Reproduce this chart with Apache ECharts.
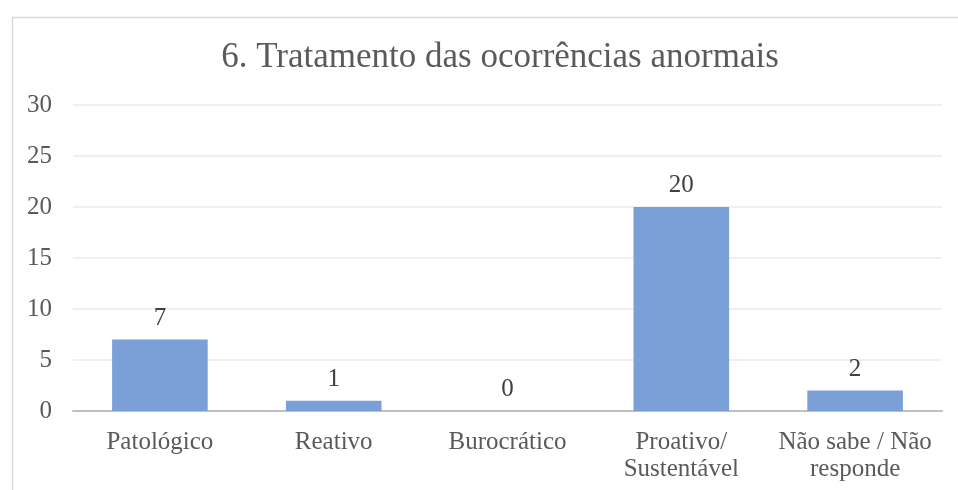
<!DOCTYPE html>
<html>
<head>
<meta charset="utf-8">
<script src="https://cdn.jsdelivr.net/npm/echarts@6/dist/echarts.min.js"></script>
<style>
html,body{margin:0;padding:0;background:#fff;}
#c{width:958px;height:490px;}
</style>
</head>
<body>
<div id="c"></div>
<script>
const titleText = '6. Tratamento das ocorrências anormais';
const categories = ['Patológico', 'Reativo', 'Burocrático', 'Proativo/\nSustentável', 'Não sabe / Não\nresponde'];
const values = [7, 1, 0, 20, 2];
const yTicks = [0, 5, 10, 15, 20, 25, 30];

const font = '"Liberation Serif", "Times New Roman", serif';
const chart = echarts.init(document.getElementById('c'));
chart.setOption({
  animation: false,
  backgroundColor: '#fff',
  graphic: [{
    type: 'rect', left: 10, top: 15, shape: {width: 1000, height: 520},
    style: {fill: 'none', stroke: '#d9d9d9', lineWidth: 1.5}, silent: true
  }],
  title: {
    text: titleText, left: 495, textAlign: 'center', top: 35,
    textStyle: {fontFamily: font, fontSize: 35, fontWeight: 'normal', color: '#5a5a5a'}
  },
  grid: {left: 73, right: 16, top: 105, bottom: 79, containLabel: false},
  xAxis: {
    type: 'category', data: categories,
    axisLine: {lineStyle: {color: '#bfbfbf', width: 2}},
    axisTick: {show: false},
    axisLabel: {fontFamily: font, fontSize: 25, color: '#5a5a5a', margin: 18, lineHeight: 27, interval: 0}
  },
  yAxis: {
    type: 'value', min: yTicks[0], max: yTicks[yTicks.length - 1], interval: 5,
    axisLine: {show: false}, axisTick: {show: false},
    splitLine: {lineStyle: {color: '#ebebeb', width: 1.5}},
    axisLabel: {fontFamily: font, fontSize: 25, color: '#5a5a5a', margin: 21}
  },
  series: [{
    type: 'bar', data: values, barWidth: '55%',
    itemStyle: {color: '#7b9fd7'},
    label: {show: true, position: 'top', distance: 9, fontFamily: font, fontSize: 25, color: '#404040'}
  }]
});
</script>
</body>
</html>
